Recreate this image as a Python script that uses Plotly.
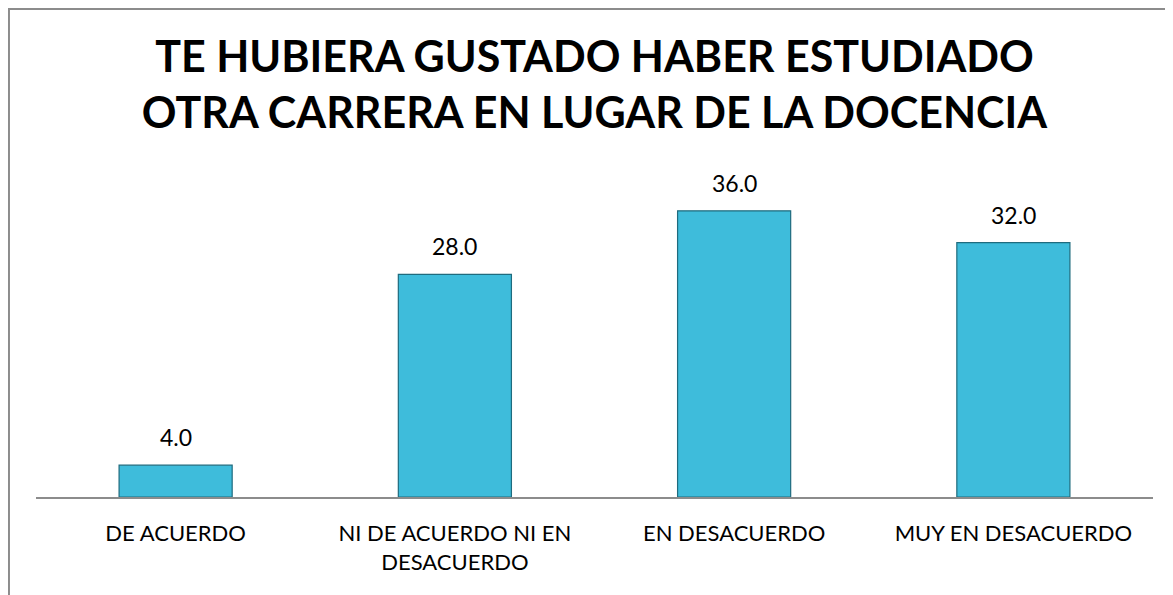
import plotly.graph_objects as go

categories = ["DE ACUERDO", "NI DE ACUERDO NI EN<br>DESACUERDO", "EN DESACUERDO", "MUY EN DESACUERDO"]
values = [4.0, 28.0, 36.0, 32.0]
title = "TE HUBIERA GUSTADO HABER ESTUDIADO<br>OTRA CARRERA EN LUGAR DE LA DOCENCIA"

FONT = "Lato, 'Open Sans', sans-serif"

fig = go.Figure()
fig.add_trace(go.Bar(
    x=categories,
    y=values,
    marker=dict(color="#3ebcdb", line=dict(color="#1f6b7e", width=1.2)),
    hoverinfo="skip",
))

# value labels sit a bit higher above the bars than plotly's default outside text
for cat, v in zip(categories, values):
    fig.add_annotation(x=cat, y=v, text=f"{v:.1f}", showarrow=False,
                       yanchor="bottom", yshift=12,
                       font=dict(family=FONT, size=23, color="#000000"))

# chart frame (body margin of the page shifts the div by 8px)
fig.add_shape(type="rect", xref="paper", yref="paper",
              x0=-0.0242, x1=1.0166, y0=-0.5, y1=1.5346,
              line=dict(color="#8c8c8c", width=2), layer="below")

fig.update_layout(
    width=1173, height=595,
    margin=dict(l=28, r=28, t=171, b=106),
    paper_bgcolor="white", plot_bgcolor="white",
    title=dict(text=title, x=0.5, xanchor="center", y=0.893, yanchor="top",
               font=dict(family=FONT, size=43, color="#000000", weight="bold")),
    bargap=0.595,
    showlegend=False,
    xaxis=dict(showline=True, linecolor="#8c8c8c", linewidth=2, ticks="",
               ticklabelstandoff=16,
               tickfont=dict(family=FONT, size=22, color="#000000"),
               showgrid=False, zeroline=False),
    yaxis=dict(range=[0, 40], visible=False, showgrid=False, zeroline=False),
)

fig.write_html("out.html")
